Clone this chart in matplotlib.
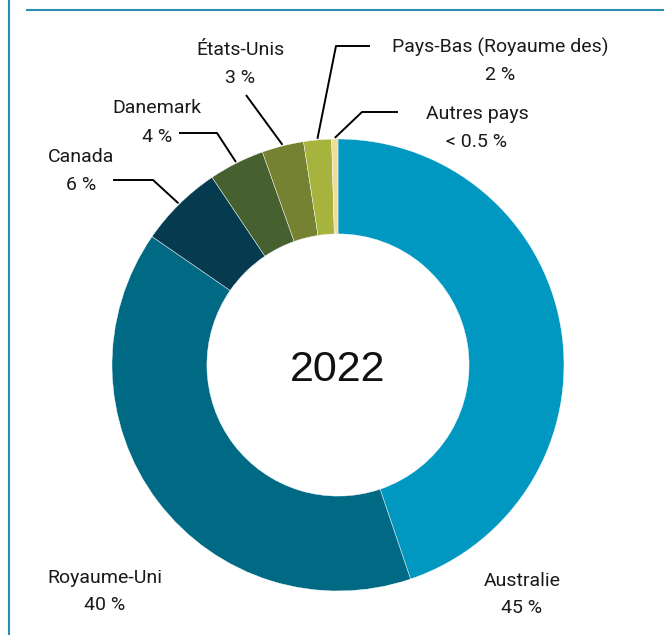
import matplotlib.pyplot as plt
import numpy as np

countries = ['Australie', 'Royaume-Uni', 'Canada', 'Danemark', 'États-Unis',
             'Pays-Bas (Royaume des)', 'Autres pays']
shares = [45, 40, 6, 4, 3, 2, 0.45]
share_labels = ['45 %', '40 %', '6 %', '4 %', '3 %', '2 %', '< 0.5 %']
colors = ['#0098c1', '#006a84', '#053a4f', '#466030', '#758232', '#a6b43e', '#f1dc98']
year = '2022'

W, H = 664, 635
CX, CY, R = 338, 365, 226  # pixel centre / outer radius of the donut


def px(x, y):
    """pixel (from top-left) -> data coords"""
    return (x - CX) / R, (CY - y) / R


fig = plt.figure(figsize=(W / 100, H / 100), dpi=100)
ax = fig.add_axes([0, 0, 1, 1])
ax.axis('off')

wedges, _ = ax.pie(shares, colors=colors, startangle=90, counterclock=False,
                   radius=1, wedgeprops=dict(width=0.42, edgecolor='white', linewidth=0.3))
ax.set_aspect('auto')
ax.set_xlim(-CX / R, (W - CX) / R)
ax.set_ylim(-(H - CY) / R, CY / R)

ax.text(0, px(0, 370)[1], year, ha='center', va='center', fontsize=31,
        family=['Liberation Sans', 'DejaVu Sans'], color='#111111')

font = dict(fontsize=14, family=['Roboto', 'DejaVu Sans'], color='#1a1a1a',
            ha='center', va='center')

# label layout: (name x, name y, value y, leader line points in pixels)
layout = {
    'Australie': (522, 581, 608, None),
    'Royaume-Uni': (105, 578, 605, None),
    'Canada': (81, 157, 185, [(113, 180), (153, 180)]),
    'Danemark': (157, 108, 137, [(179, 133), (217, 133)]),
    'États-Unis': (240, 50, 78, [(246, 95)]),
    'Pays-Bas (Royaume des)': (500, 47, 75, [(370, 46), (336, 46)]),
    'Autres pays': (477, 114, 142, [(398, 112), (362, 112)]),
}

for w, name, lab in zip(wedges, countries, share_labels):
    lx, ly, vy, pts = layout[name]
    ax.text(*px(lx, ly), name, **font)
    ax.text(*px(lx, vy), lab, **font)
    if pts:
        mid = np.deg2rad((w.theta1 + w.theta2) / 2)
        end = (1.005 * np.cos(mid), 1.005 * np.sin(mid))
        xs = [px(*p)[0] for p in pts] + [end[0]]
        ys = [px(*p)[1] for p in pts] + [end[1]]
        ax.plot(xs, ys, color='black', lw=1.4, solid_capstyle='butt')

# frame lines
ax.plot([px(27, 0)[0], px(W, 0)[0]], [px(0, 10)[1]] * 2, color='#2a8db3', lw=1.5)
ax.plot([px(9, 0)[0]] * 2, [px(0, 0)[1], px(0, H)[1]], color='#2a8db3', lw=1.5)

plt.savefig('out.png', dpi=100)
